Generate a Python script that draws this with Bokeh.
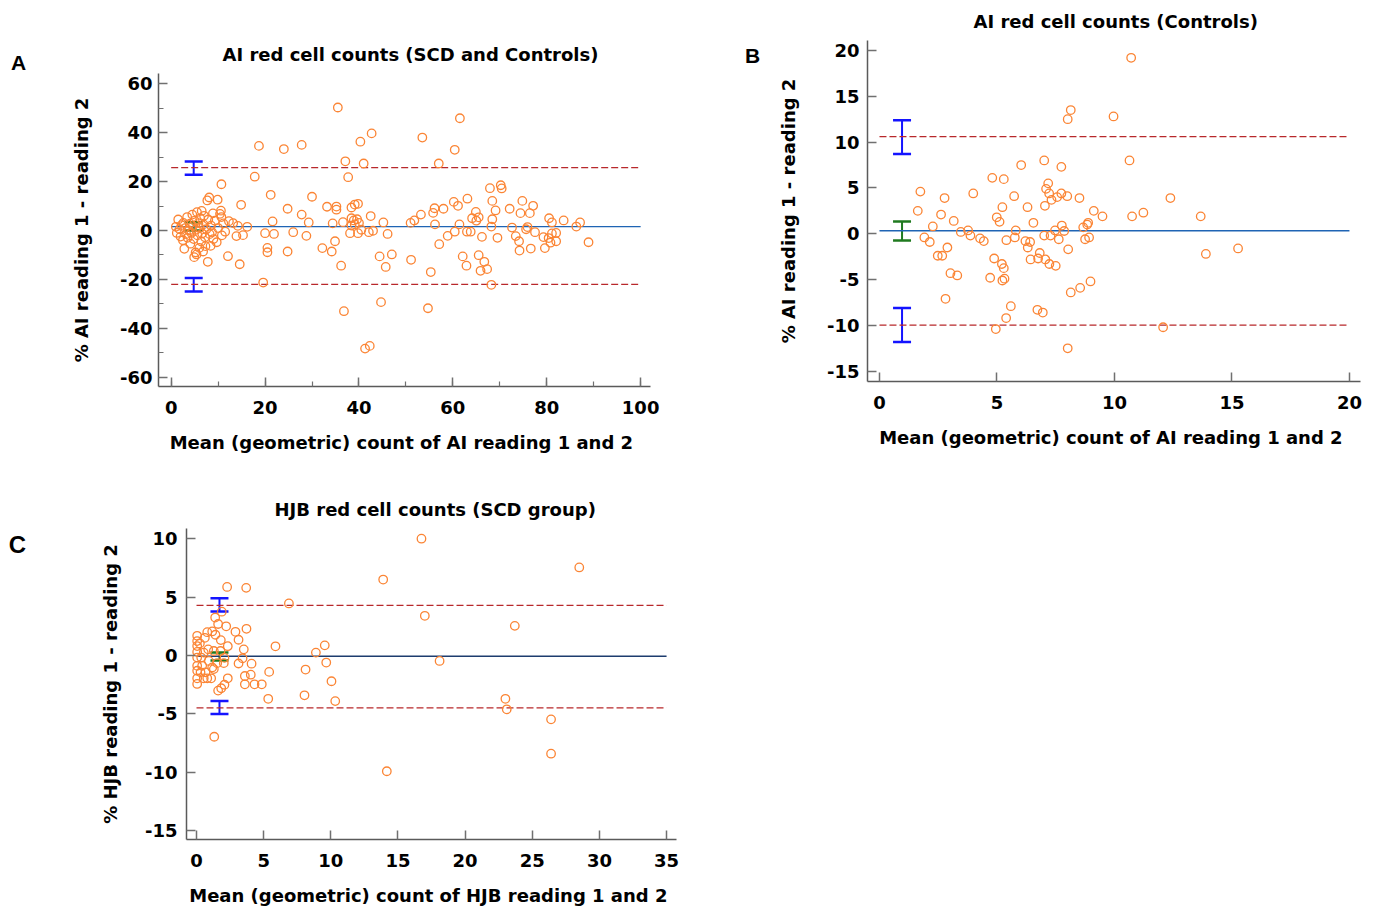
from bokeh.plotting import figure
from bokeh.layouts import column, row
from bokeh.models import Whisker, TeeHead, ColumnDataSource, Label, SingleIntervalTicker, PrintfTickFormatter, Range1d
from bokeh.embed import file_html
from bokeh.resources import INLINE

# ---------------- DATA ----------------
# Panel A: AI red cell counts (SCD and Controls)
a_mean = [35.5, 42.7, 40.3, 18.7, 24.0, 27.8, 37.1, 41.0, 37.7, 17.8, 10.7, 21.2, 30.0, 14.9, 33.2, 35.2, 35.2,
          38.4, 39.1, 39.8, 24.8, 27.8, 42.5, 21.6, 29.3, 34.4, 36.6, 38.4, 38.9, 39.6, 40.0, 38.4, 39.1, 45.2,
          16.2, 20.0, 21.9, 26.0, 28.8, 15.3, 38.1, 39.8, 40.5, 42.1, 43.0, 46.1, 34.9, 32.2, 34.2, 20.5, 20.5,
          24.8, 36.2, 44.4, 47.0, 45.7, 19.6, 44.7, 36.8, 41.3, 42.3,
          61.5, 53.5, 60.4, 57.0, 67.9, 70.2, 70.4, 60.2, 61.1, 63.1, 68.4, 74.8, 77.1, 72.1, 69.1, 74.4, 76.4,
          56.1, 58.0, 55.8, 53.2, 51.8, 51.0, 64.9, 64.1, 65.0, 65.5, 68.4, 56.2, 61.4, 68.2, 72.6, 75.6, 75.9,
          80.5, 81.1, 83.6, 86.3, 87.1, 60.4, 63.0, 63.8, 58.9, 66.2, 69.5, 73.4, 74.1, 77.5, 79.3, 80.4, 81.1,
          82.0, 82.0, 80.8, 57.1, 74.2, 76.6, 79.6, 88.9, 51.1, 62.1, 62.9, 65.5, 66.7, 65.9, 67.3, 55.3, 68.2, 54.7,
          1.0, 1.2, 1.5, 1.8, 2.0, 2.2, 2.5, 2.6, 2.8, 3.0, 3.2, 3.4, 3.5, 3.8, 4.0, 4.1, 4.3, 4.5, 4.6, 4.8,
          4.9, 5.0, 5.2, 5.3, 5.4, 5.5, 5.6, 5.8, 6.0, 6.1, 6.2, 6.4, 6.5, 6.6, 6.8, 6.9, 7.0, 7.2, 7.3, 7.5,
          7.7, 7.8, 7.9, 8.1, 8.2, 8.4, 8.5, 8.7, 8.9, 9.0, 9.3, 9.7, 9.9, 10.0, 10.4, 10.6, 10.7, 10.8, 11.1,
          11.5, 12.1, 12.3, 13.2, 13.9, 14.2, 14.6]
a_diff = [50.3, 39.7, 36.3, 34.6, 33.3, 35.0, 28.3, 27.4, 21.8, 22.0, 18.9, 14.6, 13.8, 10.5, 9.7, 9.8, 8.5,
          9.4, 10.6, 10.9, 8.9, 6.5, 5.9, 3.7, 3.3, 2.9, 3.4, 5.0, 4.1, 4.6, 3.1, 2.0, 2.5, 3.3,
          1.5, -1.1, -1.4, -0.7, -2.2, -1.9, -1.1, -1.1, 0.3, -0.7, -0.1, -1.4, -4.4, -7.2, -8.6, -7.1, -8.9,
          -8.6, -14.4, -10.6, -9.8, -14.9, -21.3, -29.3, -33.0, -48.3, -47.2,
          45.9, 38.0, 33.0, 27.4, 17.3, 18.5, 17.2, 11.7, 10.1, 13.0, 12.1, 12.1, 10.1, 8.9, 8.2, 7.1, 7.1,
          9.1, 8.9, 7.2, 6.5, 4.1, 3.1, 7.6, 5.0, 4.0, 5.4, 4.6, 2.5, 2.5, 1.6, 1.2, 0.5, 1.4,
          5.0, 3.3, 4.1, 1.6, 3.3, -0.5, -0.5, -0.5, -2.2, -2.6, -3.0, -2.3, -4.4, -0.7, -2.7, -3.1, -1.2,
          -1.0, -4.4, -5.0, -5.6, -8.2, -7.4, -7.2, -4.8, -12.0, -10.6, -14.4, -10.1, -12.8, -16.5, -15.8, -17.0, -22.2, -31.8,
          1.5, -1.0, 4.5, 0.5, -2.5, 2.2, -4.0, 3.1, -7.5, 1.0, -1.5, 5.5, -3.0, 0.0, 2.8, -5.4, -1.0, 6.5, 1.8, -3.5,
          -10.9, 4.0, -9.0, 0.3, -9.8, 7.5, -2.0, 3.0, -7.1, 1.0, 5.0, -4.5, 8.0, -1.2, -8.6, 2.5, 6.0, -2.8, -6.4, 0.5,
          12.3, -12.8, 4.5, 13.5, -1.5, -6.3, 2.0, -0.7, 7.0, -3.5, 4.0, -4.8, 12.6, 1.0, 6.8, 8.1, 5.5, -2.0, 2.9,
          -0.5, -10.5, 3.8, 3.0, -2.3, 1.9, -13.8]
a_bias = 1.6
a_loa = [-22.0, 25.7]
a_ci_x = 4.8
a_ci_bias = [0.0, 3.4]
a_ci_upper = [22.8, 28.2]
a_ci_lower = [-25.0, -19.4]
a_line_x = [0, 100]

# Panel B: AI red cell counts (Controls)
b_mean = [8.14, 8.01, 9.96, 7.01, 6.03, 7.74, 4.80, 5.29, 1.74, 2.77, 3.99, 5.73, 7.18, 7.09, 7.22, 7.32, 7.56,
          7.74, 7.99, 8.51, 7.04, 6.30, 5.23, 1.63, 2.62, 4.99, 5.11, 3.16, 6.55, 9.12, 9.49, 2.27, 8.67, 8.84,
          8.88, 3.46, 3.77, 3.87, 4.28, 4.44, 5.80, 5.76, 5.40, 6.21, 6.41, 6.31, 7.01, 7.28, 7.47, 7.63, 7.76,
          7.86, 8.03, 8.75, 8.92, 1.91, 2.14, 2.89, 2.48, 2.67, 4.88, 5.21, 5.29, 6.43, 6.75, 6.82, 7.06, 7.23,
          7.50, 3.02, 3.31, 4.71, 5.23, 5.32, 8.98, 8.54, 8.14, 2.81, 5.59, 5.39, 6.72, 6.95, 4.95, 8.01,
          10.71, 10.64, 12.38, 10.75, 11.23, 13.67, 13.89, 15.26, 12.07]
b_diff = [13.5, 12.5, 12.8, 8.0, 7.5, 7.3, 6.1, 5.96, 4.6, 3.9, 4.4, 4.1, 5.5, 4.9, 4.4, 3.7, 4.0,
          4.4, 4.1, 3.9, 3.05, 2.9, 2.9, 2.5, 2.1, 1.8, 1.3, 1.4, 1.2, 2.5, 1.9, 0.8, 0.7, 1.0,
          1.2, 0.2, 0.36, -0.2, -0.5, -0.8, 0.36, -0.4, -0.7, -0.8, -0.9, -1.5, -0.2, -0.2, 0.36, -0.6, 0.9,
          0.3, -1.7, -0.6, -0.4, -0.4, -0.9, -1.5, -2.4, -2.4, -2.7, -3.3, -3.75, -2.8, -2.7, -2.1, -2.8, -3.3,
          -3.5, -4.3, -4.55, -4.8, -5.1, -4.9, -5.2, -5.9, -6.4, -7.1, -7.9, -9.2, -8.3, -8.6, -10.4, -12.5,
          19.2, 8.0, 3.9, 1.9, 2.3, 1.9, -2.2, -1.6, -10.2]
b_bias = 0.33
b_loa = [-9.96, 10.6]
b_ci_x = 0.96
b_ci_bias = [-0.73, 1.34]
b_ci_upper = [8.7, 12.4]
b_ci_lower = [-11.8, -8.1]
b_line_x = [0, 20]

# Panel C: HJB red cell counts (SCD group)
c_mean = [2.28, 3.70, 6.88, 13.9, 16.75, 17.0, 5.88, 9.55, 8.89, 8.12, 9.66, 10.05, 10.33, 8.04, 5.41, 5.34,
          1.32, 14.17, 4.04, 3.6, 3.6, 4.32, 4.86, 4.1, 3.13, 3.43, 3.52, 3.13, 2.9, 3.72, 2.33, 2.21, 1.61,
          1.39, 1.88, 2.33, 2.08, 1.84, 1.61, 1.81, 1.41, 1.17, 0.8, 0.62, 0.25, 0.05, 0.05, 0.05, 0.05, 0.05,
          0.05, 0.05, 0.05, 0.05, 0.8, 1.09, 0.67, 0.42, 1.17, 1.54, 2.03, 2.08, 1.79, 1.29, 0.87, 0.54, 0.35,
          0.92, 1.29, 0.3, 0.54, 28.5, 23.7, 18.1, 23.0, 23.1, 26.4, 26.4]
c_diff = [5.87, 5.79, 4.46, 6.5, 10.0, 3.4, 0.79, 0.87, 0.25, -1.2, -0.6, -2.2, -3.9, -3.4, -1.4, -3.7,
          -6.95, -9.9, -1.64, -1.75, -2.46, -2.46, -2.46, -0.7, -0.68, -0.23, 0.53, 1.35, 2.03, 2.29, 0.8, 2.5, 2.7,
          3.25, 3.75, -1.95, -2.5, -2.8, -3.0, 1.32, 1.78, 2.06, 2.0, 1.52, 1.04, 1.69, 1.24, 0.81, 0.31, -0.17,
          -0.88, -1.3, -1.95, -2.43, -1.95, -1.95, -1.44, -0.88, -1.02, -0.65, -0.65, -0.2, 0.39, 0.39, 0.53, 0.25, -0.17,
          -0.46, -1.16, -1.44, -1.95, 7.54, 2.54, -0.46, -3.7, -4.6, -5.46, -8.4]
c_bias = -0.06
c_loa = [-4.48, 4.3]
c_ci_x = 1.71
c_ci_bias = [-0.43, 0.25]
c_ci_upper = [3.77, 4.9]
c_ci_lower = [-5.0, -3.9]
c_line_x = [0, 35]

titles = ["AI red cell counts (SCD and Controls)", "AI red cell counts (Controls)", "HJB red cell counts (SCD group)"]
xlabels = ["Mean (geometric) count of AI reading 1 and  2", "Mean (geometric) count of AI reading 1 and  2",
           "Mean (geometric) count of HJB reading 1 and  2"]
ylabels = ["% AI reading 1 - reading 2", "% AI reading 1 - reading 2", "% HJB reading 1 - reading 2"]
letters = ["A", "B", "C"]

# ---------------- STYLE ----------------
FONT = "DejaVu Sans"
PT_COLOR = "#fb8535"
LOA_COLOR = "#b8282b"
CI_BLUE = "#1414ff"
CI_GREEN = "#1f7a1f"


def make_panel(idx, xs, ys, bias, loa, ci_x, ci_bias, ci_up, ci_lo, line_x, xr, yr, xint, yint, minor,
               w, h, bl, br, bt, bb, mean_color, title_offset, ylab_standoff, ylab_gap):
    p = figure(width=w, height=h, x_range=xr, y_range=yr, output_backend="svg", toolbar_location=None,
               min_border_left=bl, min_border_right=br, min_border_top=bt, min_border_bottom=bb,
               title=titles[idx])
    p.outline_line_color = None
    p.grid.visible = False
    p.background_fill_color = "white"
    p.border_fill_color = "white"
    p.title.align = "left"
    p.title.offset = title_offset
    p.title.text_font = FONT
    p.title.text_font_size = "18px"
    p.title.text_font_style = "bold"
    p.title.text_color = "black"
    p.title.standoff = 17

    p.xaxis.ticker = SingleIntervalTicker(interval=xint, num_minor_ticks=minor)
    p.yaxis.ticker = SingleIntervalTicker(interval=yint, num_minor_ticks=minor)
    p.xaxis.formatter = PrintfTickFormatter(format="%d")
    p.yaxis.formatter = PrintfTickFormatter(format="%d")
    p.xaxis.axis_label = xlabels[idx]
    p.yaxis.axis_label = ylabels[idx]
    for ax in (p.xaxis[0], p.yaxis[0]):
        ax.axis_line_color = "#5a5a5a"
        ax.axis_line_width = 1.5
        ax.major_tick_line_color = "#707070"
        ax.major_tick_line_width = 1.5
        ax.major_tick_in = 9
        ax.major_tick_out = 0
        ax.minor_tick_line_color = "#707070"
        ax.minor_tick_line_width = 1.2
        ax.minor_tick_in = 5
        ax.minor_tick_out = 0
        ax.major_label_text_font = FONT
        ax.major_label_text_font_size = "18px"
        ax.major_label_text_font_style = "bold"
        ax.major_label_text_color = "black"
        ax.axis_label_text_font = FONT
        ax.axis_label_text_font_size = "18px"
        ax.axis_label_text_font_style = "bold"
        ax.axis_label_text_color = "black"
    p.xaxis.major_label_standoff = 14
    p.xaxis.axis_label_standoff = 15
    p.yaxis.major_label_standoff = ylab_standoff
    p.yaxis.axis_label_standoff = ylab_gap

    # reference lines
    p.line(line_x, [bias, bias], line_color=mean_color, line_width=1.3)
    p.line(line_x, [loa[0], loa[0]], line_color=LOA_COLOR, line_width=1.3, line_dash="7 3")
    p.line(line_x, [loa[1], loa[1]], line_color=LOA_COLOR, line_width=1.3, line_dash="7 3")

    # points
    p.scatter(xs, ys, marker="circle", size=8.5, fill_color=None, line_color=PT_COLOR, line_width=1.3)

    # confidence intervals
    blue = ColumnDataSource(dict(x=[ci_x, ci_x], lower=[ci_up[0], ci_lo[0]], upper=[ci_up[1], ci_lo[1]]))
    green = ColumnDataSource(dict(x=[ci_x], lower=[ci_bias[0]], upper=[ci_bias[1]]))
    for src, col in ((blue, CI_BLUE), (green, CI_GREEN)):
        wk = Whisker(source=src, base="x", lower="lower", upper="upper", dimension="height",
                     line_color=col, line_width=2,
                     upper_head=TeeHead(size=18, line_color=col, line_width=2.5),
                     lower_head=TeeHead(size=18, line_color=col, line_width=2.5))
        p.add_layout(wk)
    return p


def letter_fig(text, w, h, cx, cy, size):
    f = figure(width=w, height=h, x_range=Range1d(0, w), y_range=Range1d(h, 0), output_backend="svg",
               toolbar_location=None, x_axis_location=None, y_axis_location=None,
               min_border_left=0, min_border_right=0, min_border_top=0, min_border_bottom=0)
    f.outline_line_color = None
    f.grid.visible = False
    f.add_layout(Label(x=cx, y=cy, text=text, text_font="Liberation Sans", text_font_size=size,
                       text_font_style="bold", text_color="black", text_align="center", text_baseline="middle"))
    return f


pA = make_panel(0, a_mean, a_diff, a_bias, a_loa, a_ci_x, a_ci_bias, a_ci_upper, a_ci_lower, a_line_x,
                (-2.7, 102.1), (-63.8, 64.2), 20, 20, 2, 680, 470, 118, 70, 73, 84, "#1f64b4", 64, 6, 25)
pB = make_panel(1, b_mean, b_diff, b_bias, b_loa, b_ci_x, b_ci_bias, b_ci_upper, b_ci_lower, b_line_x,
                (-0.51, 20.47), (-16.12, 21.09), 5, 5, 0, 606, 470, 94, 19, 40, 89, "#1f64b4", 106, 8, 25)
pC = make_panel(2, c_mean, c_diff, c_bias, c_loa, c_ci_x, c_ci_bias, c_ci_upper, c_ci_lower, c_line_x,
                (-0.745, 35.74), (-15.74, 10.87), 5, 5, 0, 680, 438, 146, 44, 58, 66, "#1d3c6e", 88, 9, 21)

lA = letter_fig("A", 40, 470, 18, 62, "21px")
lB = letter_fig("B", 53, 470, 32, 55, "21px")
lC = letter_fig("C", 40, 438, 17, 74, "24px")

layout = column(row(column(lA), column(pA), column(lB), column(pB)),
                row(column(lC), column(pC)))
open("out.html", "w").write(file_html(layout, INLINE))
